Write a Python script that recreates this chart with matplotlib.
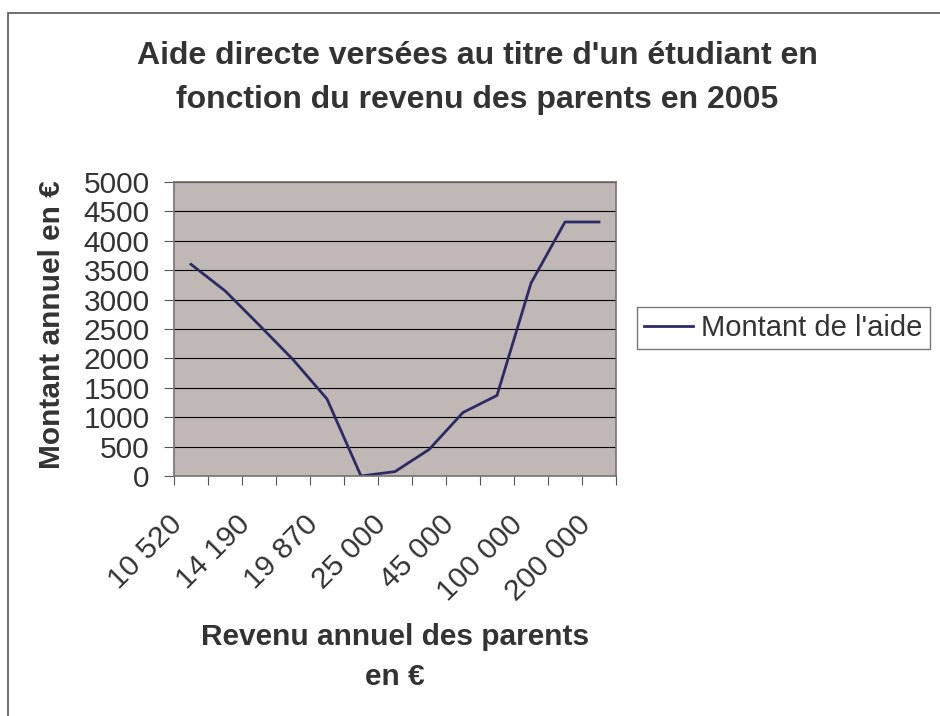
import matplotlib
matplotlib.use("Agg")
import matplotlib.pyplot as plt
from matplotlib.patches import Rectangle
from matplotlib.transforms import ScaledTranslation
import numpy as np

plt.rcParams['font.family'] = ['Liberation Sans', 'DejaVu Sans']

# 13 income brackets, only every other label is shown on the axis
revenus = ["10 520", "", "14 190", "", "19 870", "", "25 000",
           "", "45 000", "", "100 000", "", "200 000"]
montant = [3600, 3150, 2570, 1980, 1310, 0, 75, 450, 1080, 1370, 3280, 4320, 4320]
y_ticks = list(range(0, 5001, 500))

text_col = '#333333'
fs = 21.5

fig = plt.figure(figsize=(9.4, 7.16), dpi=100)
fig.patches.append(Rectangle((8 / 940, -0.1), 1.2, (716 - 13) / 716 + 0.1,
                             transform=fig.transFigure, fill=False,
                             edgecolor='#555555', linewidth=1.2))

ax = fig.add_axes([174 / 940, (716 - 476) / 716, (616 - 174) / 940, (476 - 182) / 716])
ax.set_facecolor('#c0b8b5')

x = np.arange(len(montant))
ax.plot(x, montant, color='#2b2b66', linewidth=2, label="Montant de l'aide")

ax.set_xlim(-0.5, len(montant) - 0.5)
ax.set_ylim(0, 5000)
ax.set_yticks(y_ticks)
ax.yaxis.grid(True, color='black', linewidth=0.8)
ax.set_axisbelow(True)

# tick marks between categories, labels at category centres
ax.set_xticks(np.arange(-0.5, len(montant), 1.0))
ax.set_xticklabels([])
ax.set_xticks(x, minor=True)
ax.set_xticklabels(revenus, minor=True, rotation=45, ha='right', va='center',
                   rotation_mode='anchor', fontsize=fs, color=text_col)
ax.tick_params(axis='x', which='minor', length=0, pad=31)
ax.tick_params(axis='x', which='major', length=6.5, direction='out', color='#555555')
ax.tick_params(axis='y', length=7.5, direction='out', color='#555555',
               labelsize=fs, labelcolor=text_col, pad=10)
shift = ScaledTranslation(-0.13, -0.01, fig.dpi_scale_trans)
for lab in ax.get_xticklabels(minor=True):
    lab.set_transform(lab.get_transform() + shift)

for s in ax.spines.values():
    s.set_color('#7a7070')
    s.set_linewidth(1.2)

fig.text(477 / 940, 1 - 78 / 716,
         "Aide directe versées au titre d'un étudiant en\nfonction du revenu des parents en 2005",
         ha='center', va='center', fontsize=23, fontweight='bold', color=text_col,
         linespacing=1.6)

fig.text(52 / 940, 1 - 325 / 716, "Montant annuel en €", rotation=90,
         ha='center', va='center', fontsize=fs, fontweight='bold', color=text_col)
fig.text(395 / 940, 1 - 657 / 716, "Revenu annuel des parents\nen €",
         ha='center', va='center', fontsize=fs, fontweight='bold', color=text_col,
         linespacing=1.55)

leg = ax.legend(loc='center left', bbox_to_anchor=(637 / 940, 1 - 328 / 716),
                bbox_transform=fig.transFigure, frameon=True, fancybox=False,
                fontsize=21, handlelength=1.67, handletextpad=0.27, borderpad=0.25,
                borderaxespad=0)
leg.get_frame().set_edgecolor('#555555')
leg.get_frame().set_linewidth(1.0)
for t in leg.get_texts():
    t.set_color(text_col)

fig.savefig("out.png", dpi=100)
